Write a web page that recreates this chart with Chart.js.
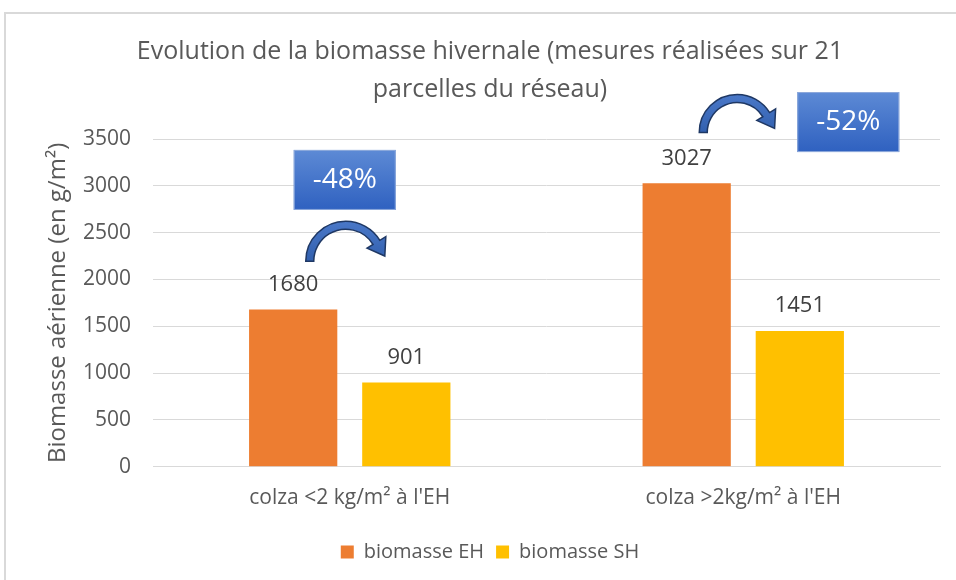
<!DOCTYPE html>
<html>
<head>
<meta charset="utf-8">
<script src="https://cdn.jsdelivr.net/npm/chart.js@4"></script>
<style>
  body { margin: 0; background: #fff; overflow: hidden; }
  #wrap { position: relative; width: 956px; height: 580px; }
  #frame { position: absolute; left: 4px; top: 12px; width: 970px; height: 600px; border: 2px solid #d9d9d9; box-sizing: border-box; }
  canvas { position: absolute; left: 0; top: 0; }
</style>
</head>
<body>
<div id="wrap">
  <div id="frame"></div>
  <canvas id="chart" width="956" height="580"></canvas>
</div>
<script>
const categories = ["colza <2 kg/m² à l'EH", "colza >2kg/m² à l'EH"];
const biomasseEH = [1680, 3027];
const biomasseSH = [901, 1451];
const yMax = 3500;
const yStep = 500;
const changes = ["-48%", "-52%"];

const FONT = "'Open Sans', 'Noto Sans', sans-serif";
const GREY = "#595959";

// valeurs au-dessus des barres
const valueLabels = {
    id: 'valueLabels',
    afterDatasetsDraw(chart) {
        const ctx = chart.ctx;
        ctx.save();
        ctx.font = "22px " + FONT;
        ctx.fillStyle = "#404040";
        ctx.textAlign = "center";
        ctx.textBaseline = "middle";
        chart.data.datasets.forEach((ds, i) => {
            chart.getDatasetMeta(i).data.forEach((el, j) => {
                ctx.fillText(ds.data[j], el.x, el.y - 25);
            });
        });
        ctx.restore();
    }
};

function drawBox(ctx, cx, cy, text) {
    const w = 102, h = 60;
    const g = ctx.createLinearGradient(0, cy - h / 2, 0, cy + h / 2);
    g.addColorStop(0, "#5d8ad5");
    g.addColorStop(1, "#2f61c0");
    ctx.fillStyle = g;
    ctx.fillRect(cx - w / 2, cy - h / 2, w, h);
    ctx.strokeStyle = "#8faadc";
    ctx.lineWidth = 1;
    ctx.strokeRect(cx - w / 2 + 0.5, cy - h / 2 + 0.5, w - 1, h - 1);
    ctx.fillStyle = "#fff";
    ctx.font = "28px " + FONT;
    ctx.textAlign = "center";
    ctx.textBaseline = "middle";
    ctx.fillText(text, cx, cy);
}

function drawArrow(ctx, cx, cy, R) {
    const r = R - 8;
    const a1 = -0.55;
    const ro = R + 7, ri = r - 7;
    const tipLen = 16;
    const tx = -Math.sin(a1), ty = Math.cos(a1);
    const mid = (R + r) / 2;
    const tip = [cx + mid * Math.cos(a1) + tx * tipLen, cy + mid * Math.sin(a1) + ty * tipLen];
    ctx.beginPath();
    ctx.arc(cx, cy, R, Math.PI, 2 * Math.PI + a1, false);
    ctx.lineTo(cx + ro * Math.cos(a1), cy + ro * Math.sin(a1));
    ctx.lineTo(tip[0], tip[1]);
    ctx.lineTo(cx + ri * Math.cos(a1), cy + ri * Math.sin(a1));
    ctx.lineTo(cx + r * Math.cos(a1), cy + r * Math.sin(a1));
    ctx.arc(cx, cy, r, 2 * Math.PI + a1, Math.PI, true);
    ctx.closePath();
    const g = ctx.createLinearGradient(0, cy - R, 0, cy + 10);
    g.addColorStop(0, "#4a78c8");
    g.addColorStop(1, "#2c5aa8");
    ctx.fillStyle = g;
    ctx.fill();
    ctx.strokeStyle = "#1f3864";
    ctx.lineWidth = 1.5;
    ctx.stroke();
}

// flèches et pourcentages de baisse
const annotations = {
    id: 'annotations',
    afterDraw(chart) {
        const ctx = chart.ctx;
        const x = chart.scales.x, y = chart.scales.y;
        ctx.save();
        drawBox(ctx, x.getPixelForValue(0) - 5, y.getPixelForValue(3063), changes[0]);
        drawArrow(ctx, x.getPixelForValue(0) - 4, y.getPixelForValue(2195), 40);
        drawBox(ctx, x.getPixelForValue(1) + 105, y.getPixelForValue(3681), changes[1]);
        drawArrow(ctx, x.getPixelForValue(1) - 6, y.getPixelForValue(3570), 38);
        ctx.restore();
    }
};

new Chart(document.getElementById("chart"), {
    type: 'bar',
    data: {
        labels: categories,
        datasets: [{
            label: "biomasse EH",
            data: biomasseEH,
            backgroundColor: "#ED7D31",
            categoryPercentage: 0.575,
            barPercentage: 0.78
        }, {
            label: "biomasse SH",
            data: biomasseSH,
            backgroundColor: "#FFC000",
            categoryPercentage: 0.575,
            barPercentage: 0.78
        }]
    },
    options: {
        responsive: false,
        animation: false,
        layout: { padding: { left: 40, right: 16, top: 0, bottom: 8 } },
        plugins: {
            title: {
                display: true,
                text: ["Evolution de la biomasse hivernale (mesures réalisées sur 21", "parcelles du réseau)"],
                color: GREY,
                font: { family: FONT, size: 25, weight: 'normal', lineHeight: 1.52 },
                padding: { top: 33, bottom: 30 }
            },
            legend: {
                position: 'bottom',
                labels: {
                    color: GREY,
                    font: { family: FONT, size: 20 },
                    boxWidth: 13,
                    boxHeight: 13,
                    padding: 12
                }
            },
            tooltip: { enabled: false }
        },
        scales: {
            x: {
                grid: { display: false, drawTicks: false },
                border: { color: "#d9d9d9" },
                ticks: { color: GREY, font: { family: FONT, size: 21 }, padding: 19 }
            },
            y: {
                min: 0,
                max: yMax,
                ticks: {
                    stepSize: yStep, color: GREY, font: { family: FONT, size: 21 }, padding: 22,
                    callback: v => String(v)
                },
                grid: { color: "#d9d9d9", drawTicks: false },
                border: { display: false },
                title: {
                    display: true,
                    text: "Biomasse aérienne (en g/m²)",
                    color: GREY,
                    font: { family: FONT, size: 24 },
                    padding: { top: 4, bottom: 0 }
                },
                afterFit(scale) { scale.width = 113; }
            }
        }
    },
    plugins: [valueLabels, annotations]
});
</script>
</body>
</html>
